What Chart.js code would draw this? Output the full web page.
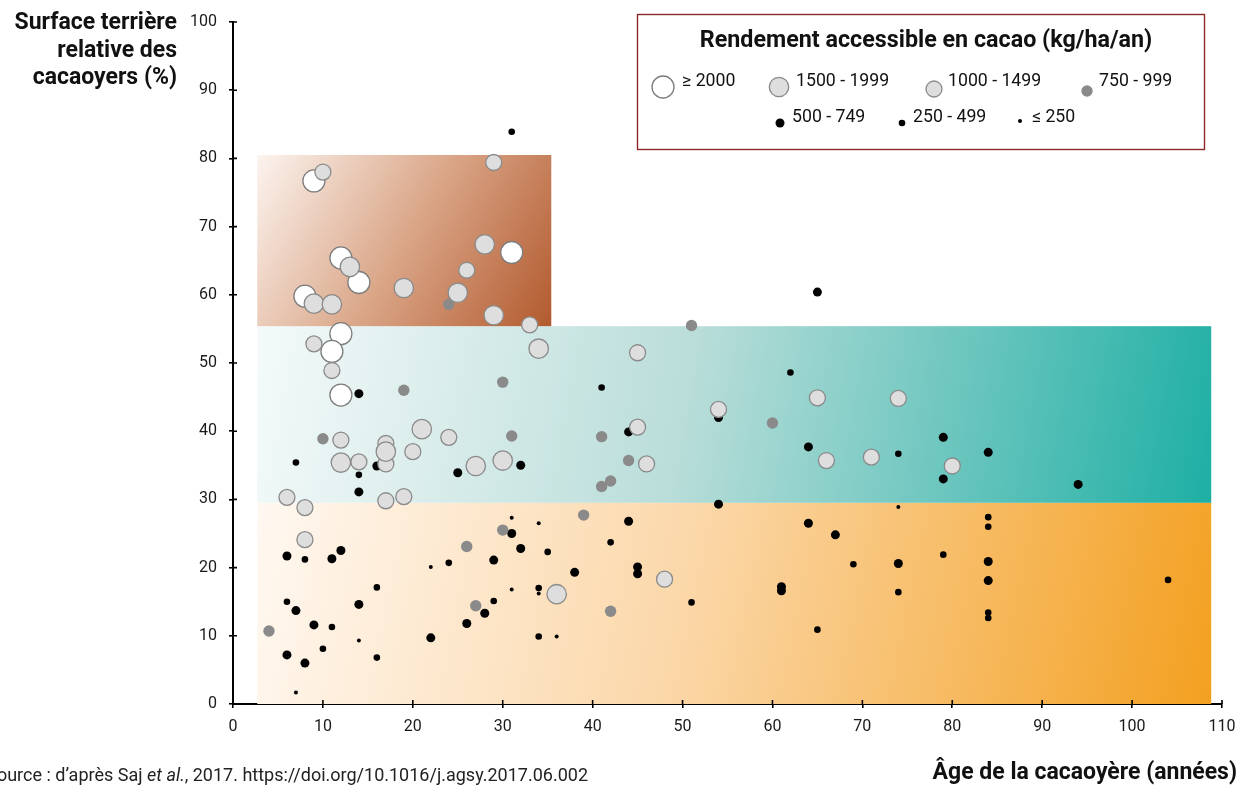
<!DOCTYPE html>
<html>
<head>
<meta charset="utf-8">
<script src="https://cdn.jsdelivr.net/npm/chart.js@4.4.1/dist/chart.umd.min.js"></script>
<style>
  html, body { margin: 0; padding: 0; background: #fff; }
  #wrap { width: 1248px; height: 787px; position: relative; }
</style>
</head>
<body>
<div id="wrap"><canvas id="chart"></canvas></div>
<script>
// yield classes (kg/ha/an), legend order
const classLabels = ["≥ 2000", "1500 - 1999", "1000 - 1499", "750 - 999", "500 - 749", "250 - 499", "≤ 250"];

// age of the plot (years) / relative basal area of cocoa trees (%)
const age2000 = [9, 12, 14, 8, 31, 12, 11, 12];
const surf2000 = [76.7, 65.4, 61.8, 59.8, 66.2, 54.3, 51.7, 45.3];

const age1500 = [13, 19, 9, 11, 28, 25, 29, 34, 21, 17, 12, 27, 30, 36];
const surf1500 = [64.1, 61.0, 58.7, 58.6, 67.4, 60.3, 57.0, 52.1, 40.3, 37.0, 35.4, 34.9, 35.7, 16.1];

const age1000 = [10, 29, 26, 33, 9, 11, 12, 24, 17, 20, 14, 17, 6, 8, 17, 19, 8, 45, 65, 54, 45, 46, 66, 71, 74, 80, 48];
const surf1000 = [78.0, 79.4, 63.6, 55.6, 52.8, 48.9, 38.7, 39.1, 38.2, 37.0, 35.5, 35.2, 30.3, 28.8, 29.8, 30.4, 24.1, 51.5, 44.9, 43.2, 40.6, 35.2, 35.7, 36.2, 44.8, 34.9, 18.3];

const age750 = [24, 19, 30, 10, 31, 4, 26, 30, 39, 27, 42, 51, 60, 41, 44, 42, 41];
const surf750 = [58.6, 46.0, 47.2, 38.9, 39.3, 10.7, 23.1, 25.5, 27.7, 14.4, 13.6, 55.5, 41.2, 39.2, 35.7, 32.7, 31.9];

const age500 = [14, 16, 14, 25, 32, 6, 11, 12, 7, 9, 6, 8, 14, 22, 29, 31, 32, 38, 28, 26, 54, 44, 64, 54, 79, 84, 79, 94, 65, 44, 45, 45, 61, 61, 64, 67, 74, 84, 84];
const surf500 = [45.5, 34.9, 31.1, 33.9, 35.0, 21.7, 21.3, 22.5, 13.7, 11.6, 7.2, 6.0, 14.6, 9.7, 21.1, 25.0, 22.8, 19.3, 13.3, 11.8, 42.0, 39.9, 37.7, 29.3, 39.1, 36.9, 33.0, 32.2, 60.4, 26.8, 20.1, 19.1, 17.2, 16.6, 26.5, 24.8, 20.6, 20.9, 18.1];

const age250 = [31, 7, 14, 8, 6, 11, 10, 16, 16, 24, 35, 42, 34, 34, 29, 41, 62, 74, 51, 69, 65, 74, 79, 84, 84, 84, 84, 104];
const surf250 = [83.9, 35.4, 33.6, 21.2, 15.0, 11.3, 8.1, 17.1, 6.8, 20.7, 22.3, 23.7, 17.0, 9.9, 15.1, 46.4, 48.6, 36.7, 14.9, 20.5, 10.9, 16.4, 21.9, 27.4, 26.0, 13.4, 12.6, 18.2];

const ageLow = [31, 7, 14, 22, 34, 31, 34, 36, 74];
const surfLow = [27.3, 1.7, 9.3, 20.1, 26.5, 16.8, 16.2, 9.9, 28.9];

const xTicks = [0, 10, 20, 30, 40, 50, 60, 70, 80, 90, 100, 110];
const yTicks = [0, 10, 20, 30, 40, 50, 60, 70, 80, 90, 100];

const FONT = 'Roboto, "Open Sans", sans-serif';

function pts(xs, ys) {
  return xs.map((x, i) => ({ x: x, y: ys[i] }));
}

function ds(i, xs, ys, fill, border, bw, r, order) {
  return {
    label: classLabels[i],
    data: pts(xs, ys),
    pointRadius: r,
    pointHoverRadius: r,
    pointBackgroundColor: fill,
    pointBorderColor: border,
    pointBorderWidth: bw,
    order: order
  };
}

const datasets = [
  ds(0, age2000, surf2000, "#ffffff", "#7d7d7d", 1.3, 11, 2),
  ds(1, age1500, surf1500, "#dedede", "#8a8a8a", 1.3, 9.7, 0),
  ds(2, age1000, surf1000, "#dedede", "#8a8a8a", 1.3, 8, 1),
  ds(3, age750, surf750, "#8a8a8a", "#8a8a8a", 0, 5.7, 3),
  ds(4, age500, surf500, "#000000", "#000000", 0, 4.5, 4),
  ds(5, age250, surf250, "#000000", "#000000", 0, 3.3, 5),
  ds(6, ageLow, surfLow, "#000000", "#000000", 0, 2, 6)
];

// background zones and all extra text
const decor = {
  id: "decor",
  beforeDatasetsDraw(chart) {
    const ctx = chart.ctx, x = chart.scales.x, y = chart.scales.y;
    function zone(x0, x1, y0, y1, stops) {
      const l = x.getPixelForValue(x0), r = x.getPixelForValue(x1);
      const t = y.getPixelForValue(y1), b = y.getPixelForValue(y0);
      const g = ctx.createLinearGradient(l, t, r, b);
      stops.forEach(s => g.addColorStop(s[0], s[1]));
      ctx.fillStyle = g;
      ctx.fillRect(l, t, r - l, b - t);
    }
    ctx.save();
    zone(2.7, 108.8, 0, 29.5, [[0, "#fff8f1"], [0.45, "#fbd7a8"], [1, "#f3a020"]]);
    zone(2.7, 108.8, 29.5, 55.4, [[0, "#f4fafa"], [0.45, "#b9ddd9"], [1, "#1eafa4"]]);
    zone(2.7, 35.4, 55.4, 80.5, [[0, "#fcf4ef"], [0.5, "#daa688"], [1, "#b25a2e"]]);
    ctx.restore();
  },
  afterDraw(chart) {
    const ctx = chart.ctx, x = chart.scales.x, y = chart.scales.y;
    const area = chart.chartArea;
    ctx.save();
    // inner half of the tick marks
    ctx.strokeStyle = "#000";
    ctx.lineWidth = 1.6;
    ctx.beginPath();
    yTicks.forEach(v => {
      const py = y.getPixelForValue(v);
      ctx.moveTo(area.left, py);
      ctx.lineTo(area.left + 4, py);
    });
    xTicks.forEach(v => {
      const px = x.getPixelForValue(v);
      ctx.moveTo(px, area.bottom);
      ctx.lineTo(px, area.bottom - 4);
    });
    ctx.stroke();

    // y title
    ctx.fillStyle = "#111";
    ctx.font = "bold 23px " + FONT;
    ctx.textAlign = "right";
    ctx.textBaseline = "alphabetic";
    ctx.fillText("Surface terrière", 177, 29);
    ctx.fillText("relative des", 177, 57);
    ctx.fillText("cacaoyers (%)", 177, 84);

    // x title
    ctx.textBaseline = "middle";
    ctx.fillText("Âge de la cacaoyère (années)", 1237, 773);

    // source
    const parts = [["Source : d’après Saj ", ""], ["et al.", "italic "], [", 2017. https://doi.org/10.1016/j.agsy.2017.06.002", ""]];
    let total = 0;
    parts.forEach(p => { ctx.font = p[1] + "18px " + FONT; total += ctx.measureText(p[0]).width; });
    let sx = 588 - total;
    ctx.textAlign = "left";
    ctx.fillStyle = "#222";
    parts.forEach(p => {
      ctx.font = p[1] + "18px " + FONT;
      ctx.fillText(p[0], sx, 776);
      sx += ctx.measureText(p[0]).width;
    });

    // legend box
    ctx.fillStyle = "#fff";
    ctx.fillRect(637.5, 14.5, 567, 135);
    ctx.strokeStyle = "#8c2a2a";
    ctx.lineWidth = 1.4;
    ctx.strokeRect(637.5, 14.5, 567, 135);
    ctx.fillStyle = "#111";
    ctx.font = "bold 23.3px " + FONT;
    ctx.textAlign = "center";
    ctx.fillText("Rendement accessible en cacao (kg/ha/an)", 926, 41);

    const slots = [[663, 87, 682, 82], [779, 87, 796, 82], [934, 89, 948, 82], [1087, 91, 1099, 82],
                   [780, 123, 792, 118], [902, 123, 913, 118], [1020, 121, 1032, 118]];
    ctx.font = "17.7px " + FONT;
    ctx.textAlign = "left";
    chart.data.datasets.forEach((d, i) => {
      const s = slots[i];
      ctx.beginPath();
      ctx.arc(s[0], s[1], d.pointRadius, 0, Math.PI * 2);
      ctx.fillStyle = d.pointBackgroundColor;
      ctx.fill();
      if (d.pointBorderWidth > 0) {
        ctx.lineWidth = d.pointBorderWidth;
        ctx.strokeStyle = d.pointBorderColor;
        ctx.stroke();
      }
      ctx.fillStyle = "#111";
      ctx.fillText(d.label, s[2], s[3]);
    });
    ctx.restore();
  }
};

new Chart(document.getElementById("chart"), {
  type: "scatter",
  data: { datasets: datasets },
  options: {
    responsive: true,
    maintainAspectRatio: false,
    devicePixelRatio: 1,
    animation: false,
    events: [],
    layout: { padding: { left: 180, right: 26, top: 22, bottom: 0 } },
    plugins: { legend: { display: false }, tooltip: { enabled: false } },
    scales: {
      x: {
        type: "linear",
        min: 0, max: 110,
        afterFit: s => { s.height = 83; },
        afterBuildTicks: s => { s.ticks = xTicks.map(v => ({ value: v })); },
        grid: { drawOnChartArea: false, color: "#000", lineWidth: 1.6, tickLength: 4 },
        border: { color: "#000", width: 2 },
        ticks: { color: "#1a1a1a", font: { family: FONT, size: 16 }, padding: 9 }
      },
      y: {
        min: 0, max: 100,
        afterFit: s => { s.width = 53; },
        afterBuildTicks: s => { s.ticks = yTicks.map(v => ({ value: v })); },
        grid: { drawOnChartArea: false, color: "#000", lineWidth: 1.6, tickLength: 4 },
        border: { color: "#000", width: 2 },
        ticks: { color: "#1a1a1a", font: { family: FONT, size: 16 }, padding: 12 }
      }
    }
  },
  plugins: [decor]
});
</script>
</body>
</html>
